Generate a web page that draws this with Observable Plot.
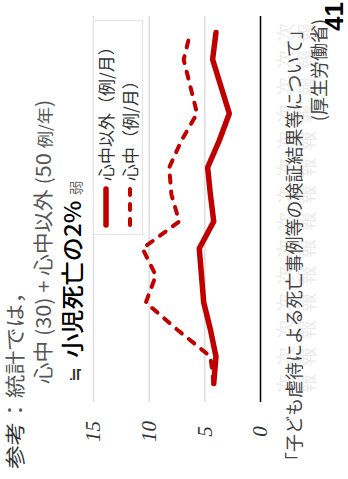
<!DOCTYPE html>
<html><head><meta charset="utf-8">
<script src="https://cdn.jsdelivr.net/npm/d3@7"></script>
<script src="https://cdn.jsdelivr.net/npm/@observablehq/plot@0.6"></script>
<style>
html,body{margin:0;padding:0;background:#fff;overflow:hidden;width:348px;height:479px}
#page{position:absolute;left:0;top:0;width:479px;height:348px;transform-origin:0 0;transform:translate(0px,479px) rotate(-90deg);font-family:"Noto Sans CJK JP",sans-serif;}
.abs{position:absolute;white-space:pre;line-height:1;transform-origin:0 0}
#legend{position:absolute;left:244px;top:93px;width:213px;height:48px;border:1px solid #e3e3e3;background:#fff}
#legend .row{position:absolute;left:6px;white-space:pre;line-height:1;font-size:17px;color:#333;display:flex;align-items:center}
#legend svg{margin-right:5px}
</style></head>
<body><div id="page">
<div id="chart" class="abs" style="left:0;top:0"></div>
<div class="abs" style="left:10px;top:5px;font-size:20px;color:#555;transform:scaleX(1.18)"><span style="color:#333">参考</span>：統計では，</div>
<div class="abs" style="left:95px;top:33px;font-size:20px;color:#555;transform:scaleX(1.08)">心中 (30) + 心中以外 (50 <span style="font-size:16px">例/年</span>)</div>
<div class="abs" style="left:97px;top:60px;font-size:23px;color:#333;transform:scaleX(1.05)"><span style="font-size:17px">≒</span><span style="color:#000;font-weight:500;margin-left:9px">小児死亡の2%</span> <span style="font-size:14px;color:#666">弱</span></div>
<div id="legend"></div>
<div class="abs" style="left:9px;top:284px;font-size:18px;color:#444">「子ども虐待による死亡事例等の検証結果等について」</div>
<div class="abs" style="right:19px;top:309px;font-size:18px;color:#444">(厚生労働省)</div>
<div class="abs" style="right:2px;top:321px;font-size:26px;font-weight:bold;color:#000;font-family:'Liberation Sans',sans-serif">41</div>
</div>
<script>
const categories = ["第1次","第2次","第3次","第4次","第5次","第6次","第7次","第8次","第9次","第10次","第11次","第12次","第13次","第14次"];
const nonShinju = [4.2, 4.0, 4.5, 5.1, 5.3, 5.5, 4.2, 4.5, 4.75, 3.7, 2.8, 3.55, 4.3, 4.0];
const shinju = [4.2, 4.5, 7.5, 10.3, 9.4, 10.6, 7.3, 8.0, 8.2, 7.1, 5.7, 6.3, 6.9, 6.3];
const yTicks = [0, 5, 10, 15];
const xTickLines = ["次", "報"];
const seriesNames = ["心中以外（例/月）", "心中（例/月）"];
const red = "#c00000";

const rows = categories.map((c, i) => ({cat: c, a: nonShinju[i], b: shinju[i]}));

const chart = Plot.plot({
  width: 479, height: 330,
  marginLeft: 77, marginRight: 16, marginTop: 93, marginBottom: 70,
  style: {background: "transparent", overflow: "visible"},
  x: {type: "point", domain: categories, padding: 0.45, label: null},
  y: {domain: [0, 15], label: null},
  marks: [
    Plot.gridY(yTicks.filter(d => d > 0), {stroke: "#dedede", strokeOpacity: 1, strokeWidth: 1.5}),
    Plot.ruleY([0], {stroke: "#000", strokeWidth: 1.5}),
    Plot.axisY(yTicks, {tickSize: 0, tickPadding: 30, textAnchor: "middle", fontSize: 21, fontFamily: "Liberation Serif", fontStyle: "italic", fill: "#333", label: null}),
    Plot.axisX({tickSize: 0, tickPadding: 17, tickFormat: () => xTickLines.join("\n"), fontSize: 19, lineHeight: 1.13, fill: "#ececec", lineAnchor: "top", label: null, fontFamily: "Noto Sans CJK JP"}),
    Plot.line(rows, {x: "cat", y: "b", stroke: red, strokeWidth: 4, strokeDasharray: "7,9", strokeLinecap: "round"}),
    Plot.line(rows, {x: "cat", y: "a", stroke: red, strokeWidth: 5.5})
  ]
});
document.getElementById("chart").appendChild(chart);

const legend = document.getElementById("legend");
seriesNames.forEach((name, i) => {
  const row = document.createElement("div");
  row.className = "row";
  row.style.top = (i === 0 ? 3 : 27) + "px";
  const dash = i === 0 ? "" : 'stroke-dasharray="6,9"';
  row.innerHTML = `<svg width="42" height="10"><line x1="3" y1="5" x2="39" y2="5" stroke="${red}" stroke-width="${i === 0 ? 5.5 : 4}" stroke-linecap="round" ${dash}/></svg>${name}`;
  legend.appendChild(row);
});
</script>
</body></html>
